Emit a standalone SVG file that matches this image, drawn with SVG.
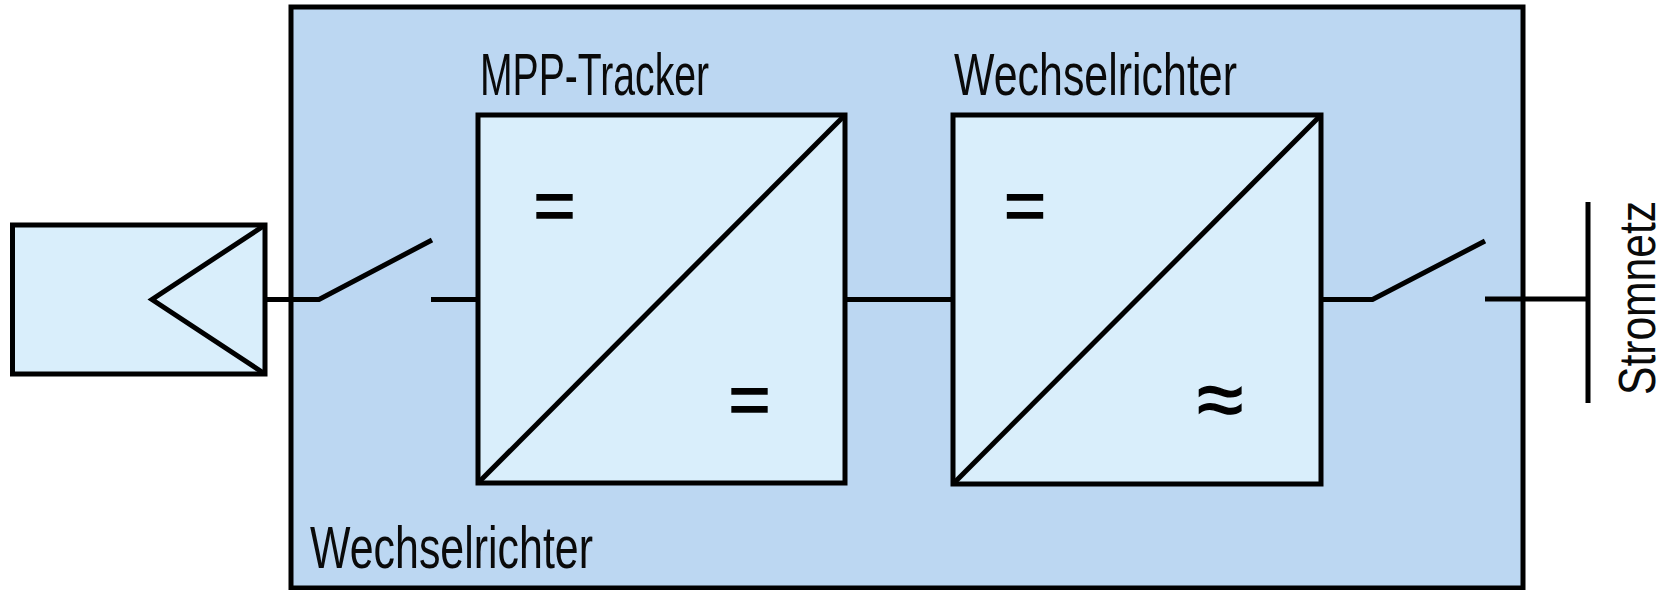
<svg xmlns="http://www.w3.org/2000/svg" width="1667" height="590" viewBox="0 0 1667 590">
<style>
.box{fill:#d9eefb;stroke:#000;stroke-width:5}
.ln{fill:none;stroke:#000;stroke-width:5;stroke-linejoin:miter}
.lb{font-family:"Liberation Sans",Arial,sans-serif;font-size:60px;fill:#0a0a0a}
.sym{font-family:"Liberation Sans",Arial,sans-serif;font-size:72px;fill:#000;stroke:#000;stroke-width:1.400}
</style>
<rect width="1667" height="590" fill="#fff"/>
<g id="inverter-housing">
<rect x="291" y="7" width="1232" height="581" fill="#bcd7f2" stroke="#000" stroke-width="5"/>
<text class="lb" x="310" y="568" textLength="283" lengthAdjust="spacingAndGlyphs">Wechselrichter</text>
</g>
<g id="pv-module">
<rect class="box" x="12.500" y="225" width="252.500" height="149"/>
<path class="ln" d="M265 225L152 299.500L265 374"/>
</g>
<g id="mpp-tracker">
<rect class="box" x="478" y="115" width="367" height="368"/>
<path class="ln" d="M845 115L478 483"/>
<text class="lb" x="480" y="95" textLength="229" lengthAdjust="spacingAndGlyphs">MPP-Tracker</text>
<text class="sym" x="554.500" y="230" text-anchor="middle">=</text>
<text class="sym" x="749.500" y="424" text-anchor="middle">=</text>
</g>
<g id="inverter">
<rect class="box" x="953" y="115" width="368" height="369"/>
<path class="ln" d="M1321 115L953 484"/>
<text class="lb" x="954" y="95" textLength="283" lengthAdjust="spacingAndGlyphs">Wechselrichter</text>
<text class="sym" x="1025" y="230" text-anchor="middle">=</text>
<text class="sym" x="1220" y="428" text-anchor="middle" style="font-size:84px">≈</text>
</g>
<g id="grid">
<path class="ln" d="M1588 202V403"/>
<text class="lb" style="font-size:52px" transform="translate(1655 395) rotate(-90)" textLength="194" lengthAdjust="spacingAndGlyphs">Stromnetz</text>
</g>
<g id="connectors">
<path class="ln" d="M265 299.500H319L432 240"/>
<path class="ln" d="M431 299.500H478"/>
<path class="ln" d="M845 299.500H953"/>
<path class="ln" d="M1321 299.500H1372.500L1485 241"/>
<path class="ln" d="M1485 299H1588"/>
</g>
</svg>
